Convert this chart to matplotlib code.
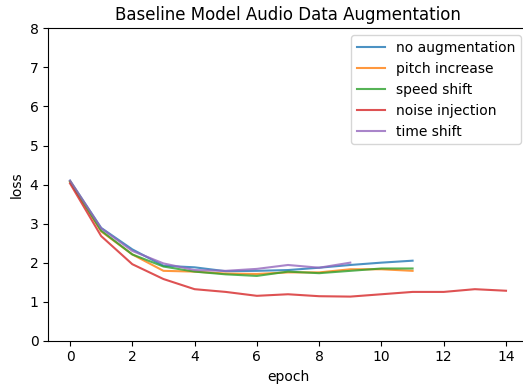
import matplotlib
matplotlib.use("Agg")
import matplotlib.pyplot as plt

epochs_short = list(range(10))
epochs_mid = list(range(12))
epochs_long = list(range(15))

no_aug = [4.10, 2.89, 2.34, 1.92, 1.88, 1.78, 1.79, 1.81, 1.87, 1.94, 2.00, 2.05]
pitch = [4.08, 2.80, 2.21, 1.79, 1.77, 1.72, 1.71, 1.75, 1.75, 1.83, 1.83, 1.79]
speed = [4.08, 2.82, 2.21, 1.90, 1.77, 1.70, 1.66, 1.77, 1.73, 1.79, 1.85, 1.85]
noise = [4.03, 2.68, 1.96, 1.58, 1.32, 1.25, 1.15, 1.19, 1.14, 1.13, 1.19, 1.25, 1.25, 1.32, 1.28]
time_shift = [4.10, 2.88, 2.30, 1.98, 1.81, 1.79, 1.84, 1.94, 1.87, 2.00]

labels = ["no augmentation", "pitch increase", "speed shift", "noise injection", "time shift"]

fig = plt.figure(figsize=(5.23, 3.87), dpi=100)
ax = fig.add_axes([0.0922, 0.1196, 0.917, 0.807])
ax.plot(epochs_mid, no_aug, label=labels[0], alpha=0.8)
ax.plot(epochs_mid, pitch, label=labels[1], alpha=0.8)
ax.plot(epochs_mid, speed, label=labels[2], alpha=0.8)
ax.plot(epochs_long, noise, label=labels[3], alpha=0.8)
ax.plot(epochs_short, time_shift, label=labels[4], alpha=0.8)
ax.set_ylim(0, 8)
ax.set_xticks([0, 2, 4, 6, 8, 10, 12, 14])
ax.set_title("Baseline Model Audio Data Augmentation")
ax.set_xlabel("epoch")
ax.set_ylabel("loss")
ax.legend(loc="upper right")
fig.savefig("out.png", dpi=100)
